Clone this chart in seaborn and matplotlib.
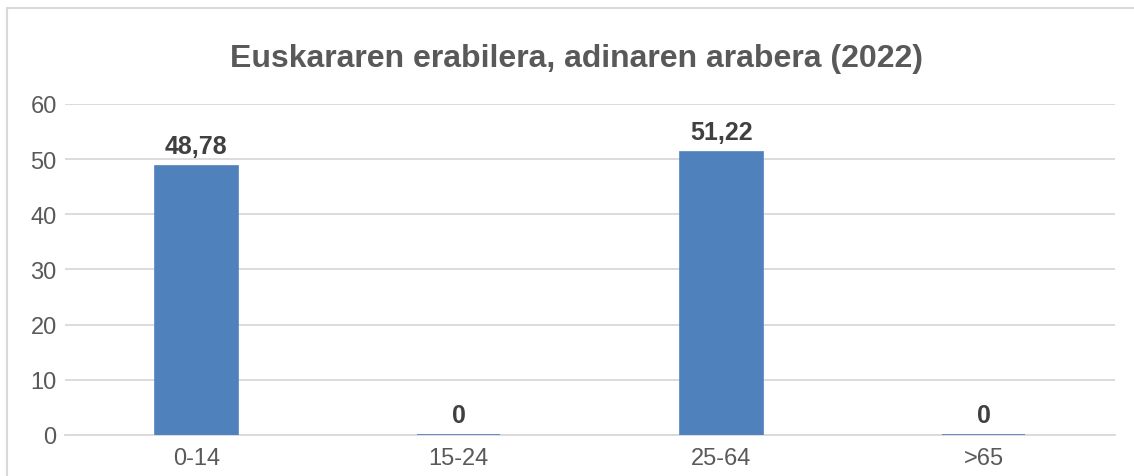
import matplotlib
matplotlib.use("Agg")
import matplotlib.pyplot as plt
import seaborn as sns
from matplotlib.patches import Rectangle

# Data
age_groups = ["0-14", "15-24", "25-64", ">65"]
usage_pct = [48.78, 0, 51.22, 0]
y_ticks = [0, 10, 20, 30, 40, 50, 60]
title_text = "Euskararen erabilera, adinaren arabera (2022)"

bar_color = "#4F81BD"
text_gray = "#595959"
label_gray = "#404040"
grid_gray = "#D9D9D9"

sns.set_style("white")
plt.rcParams["font.family"] = ["Liberation Sans", "DejaVu Sans"]

fig = plt.figure(figsize=(11.34, 4.77), dpi=100)
ax = fig.add_axes([0.0573, 0.0860, 0.9259, 0.6939])

sns.barplot(x=age_groups, y=usage_pct, color=bar_color, width=0.316,
            edgecolor=bar_color, linewidth=1.2, saturation=1, ax=ax)
# keep zero-height bars visible as a thin line above the axis
for p in ax.patches:
    p.set_zorder(3)

# data labels, decimal comma
labels = [f"{v:.2f}".replace(".", ",") if v else "0" for v in usage_pct]
ax.bar_label(ax.containers[0], labels=labels, padding=6,
             fontsize=18, fontweight="bold", color=label_gray)

ax.set_ylim(0, 60)
ax.set_xlim(-0.5, len(age_groups) - 0.5)
ax.set_yticks(y_ticks)
ax.yaxis.grid(True, color=grid_gray, linewidth=1.3)
ax.set_axisbelow(True)
for side in ["top", "right", "left"]:
    ax.spines[side].set_visible(False)
ax.spines["bottom"].set_color(grid_gray)
ax.spines["bottom"].set_linewidth(1.3)
ax.tick_params(axis="both", length=0, labelsize=17, labelcolor=text_gray)
ax.tick_params(axis="y", pad=6)
ax.tick_params(axis="x", pad=9)
ax.set_xlabel("")
ax.set_ylabel("")

fig.text(0.508, 0.877, title_text, ha="center", va="center",
         fontsize=23, fontweight="bold", color=text_gray)

# chart frame (only left and top edges fall inside the image)
fig.patches.append(Rectangle((7 / 1134, -0.1), 1.2, (477 - 9) / 477 + 0.1,
                             transform=fig.transFigure, fill=False,
                             edgecolor=grid_gray, linewidth=1.5))

fig.savefig("out.png", dpi=100)
